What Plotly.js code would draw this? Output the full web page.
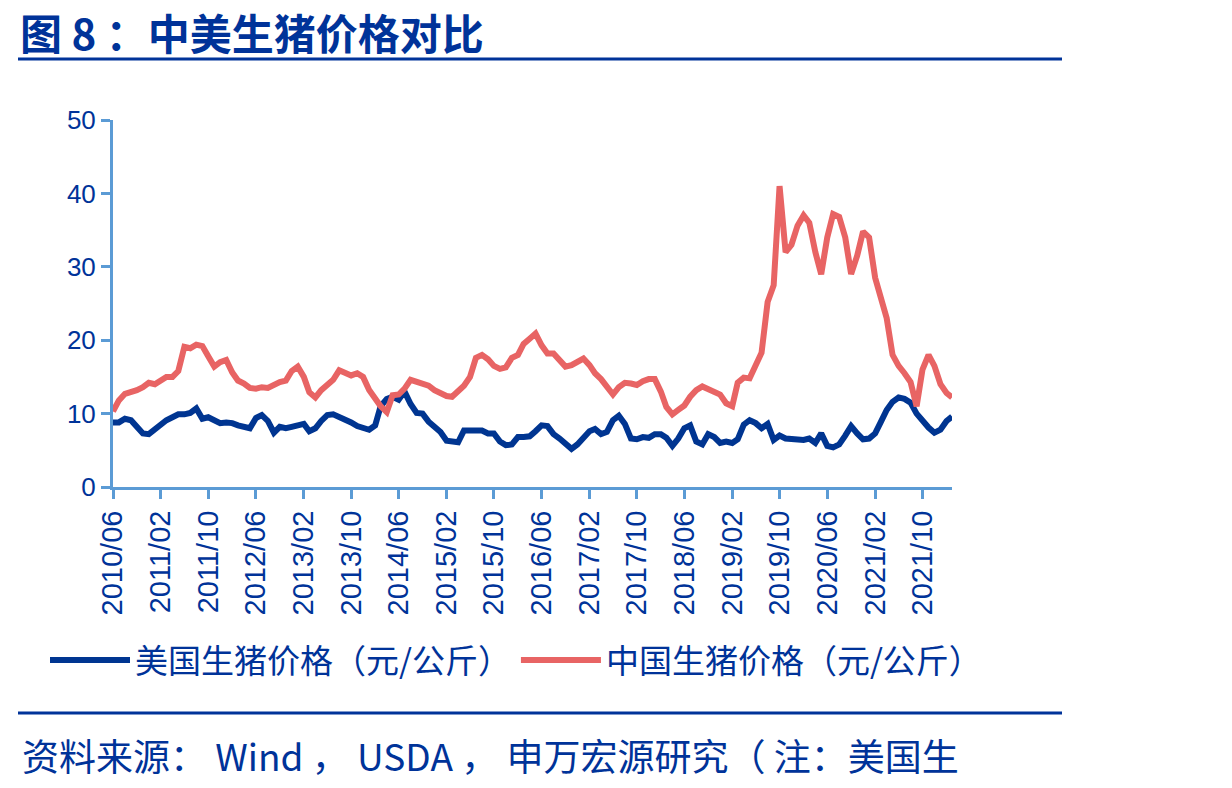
<!DOCTYPE html>
<html>
<head>
<meta charset="utf-8">
<script src="https://cdn.plot.ly/plotly-3.0.1.min.js"></script>
<style>
html,body{margin:0;padding:0;background:#fff;}
#chart{width:1232px;height:788px;}
</style>
</head>
<body>
<div id="chart"></div>
<script>
// Monthly series, 2010/06 .. 2022/03
var startYear = 2010, startMonth = 6;
var usPrice = [
 8.8, 8.8, 9.3, 9.1, 8.2, 7.3, 7.2, 7.9, 8.6, 9.1,
 9.5, 9.9, 9.9, 10.1, 10.7, 9.3, 9.5, 9.0, 8.7, 8.8,
 8.7, 8.4, 8.2, 8.0, 9.4, 9.8, 9.0, 7.4, 8.2, 8.0,
 8.2, 8.4, 8.6, 7.6, 8.0, 9.0, 9.8, 9.9, 9.6, 9.3,
 8.8, 8.3, 8.0, 7.8, 8.4, 11.0, 12.0, 12.3, 11.9, 13.0,
 11.3, 10.1, 10.0, 8.9, 8.2, 7.5, 6.3, 6.2, 6.1, 7.7,
 7.7, 7.7, 7.7, 7.3, 7.3, 6.2, 5.7, 5.8, 6.8, 6.8,
 6.9, 7.6, 8.4, 8.3, 7.2, 6.6, 5.8, 5.2, 5.8, 6.6,
 7.6, 7.9, 7.2, 7.5, 9.1, 9.7, 8.6, 6.6, 6.5, 6.8,
 6.7, 7.2, 7.2, 6.7, 5.6, 6.6, 8.0, 8.4, 6.2, 5.8,
 7.2, 6.8, 6.0, 6.2, 6.0, 6.5, 8.5, 9.1, 8.7, 8.0,
 8.6, 6.4, 7.0, 6.6, 6.5, 6.5, 6.4, 6.6, 6.0, 7.3,
 5.6, 5.4, 5.8, 7.0, 8.3, 7.3, 6.5, 6.6, 7.3, 8.8,
 10.5, 11.6, 12.2, 12.0, 11.5, 10.0, 9.0, 8.1, 7.4, 7.8,
 9.0, 9.6
];
var cnPrice = [
 10.3, 11.8, 12.7, 12.9, 13.2, 13.6, 14.2, 14.0, 14.5, 15.0,
 15.0, 15.8, 19.1, 18.9, 19.4, 19.2, 17.8, 16.4, 17.0, 17.3,
 15.6, 14.5, 14.1, 13.5, 13.4, 13.6, 13.5, 14.0, 14.3, 14.5,
 15.8, 16.4, 15.0, 12.9, 12.2, 13.2, 13.9, 14.6, 15.9, 15.5,
 15.2, 15.5, 15.0, 13.2, 11.9, 11.0, 10.2, 12.5, 12.6, 13.4,
 14.6, 14.4, 14.0, 13.8, 13.2, 12.8, 12.4, 12.3, 13.0, 13.8,
 15.0, 17.6, 18.0, 17.4, 16.5, 16.1, 16.3, 17.6, 18.0, 19.5,
 20.2, 20.9, 19.3, 18.2, 18.2, 17.3, 16.4, 16.6, 17.1, 17.5,
 16.6, 15.5, 14.7, 13.5, 12.6, 13.6, 14.2, 14.1, 13.9, 14.4,
 14.7, 14.7, 13.0, 10.9, 9.9, 10.5, 11.1, 12.3, 13.2, 13.7,
 13.4, 13.1, 12.6, 11.4, 11.0, 14.2, 14.9, 14.8, 16.6, 18.3,
 25.2, 27.5, 41.0, 32.0, 33.0, 35.6, 37.0, 36.0, 32.0, 29.0,
 34.0, 37.2, 36.8, 34.0, 29.0, 31.5, 34.8, 34.0, 28.5, 26.0,
 23.0, 18.0, 16.5, 15.5, 14.3, 11.0, 16.0, 18.0, 16.5, 14.0,
 12.8, 12.2
];
var seriesNames = ['美国生猪价格（元/公斤）', '中国生猪价格（元/公斤）'];
var titleText = '图 8 ：中美生猪价格对比';
var sourceText = '资料来源： Wind ， USDA ， 申万宏源研究（ 注：美国生';

var months = [];
for (var k = 0; k < usPrice.length; k++) {
  var m = startMonth - 1 + k;
  var y = startYear + Math.floor(m / 12);
  var mm = (m % 12) + 1;
  months.push(y + '-' + (mm < 10 ? '0' : '') + mm + '-01');
}

var darkBlue = '#003399';
var redC = '#E86464';
var axisC = '#5B9BD5';
var cjk = '"Noto Sans CJK SC", "Noto Sans", sans-serif';
var latin = '"Liberation Sans", Arial, sans-serif';

var traces = [
  {x: months, y: usPrice, name: seriesNames[0], type: 'scatter', mode: 'lines',
   line: {color: '#003591', width: 6}},
  {x: months, y: cnPrice, name: seriesNames[1], type: 'scatter', mode: 'lines',
   line: {color: redC, width: 6}}
];

var L = 113, R = 952, T = 120, B = 487;
var pw = R - L, ph = B - T;
function px(x) { return (x - L) / pw; }
function py(y) { return (B - y) / ph; }

var layout = {
  width: 1232, height: 788,
  margin: {l: L, r: 1232 - R, t: T, b: 788 - B, pad: 0},
  paper_bgcolor: '#fff', plot_bgcolor: '#fff',
  showlegend: true,
  xaxis: {type: 'date', range: [months[0], months[months.length - 1]],
          tick0: months[0], dtick: 'M8', tickformat: '%Y/%m', tickangle: -90,
          ticks: 'outside', ticklen: 9, tickwidth: 3, tickcolor: axisC,
          showline: true, linewidth: 3, linecolor: axisC, showgrid: false, zeroline: false,
          tickfont: {family: latin, size: 29, color: darkBlue}},
  yaxis: {range: [0, 50], dtick: 10, ticks: 'outside', ticklen: 9, tickwidth: 3, tickcolor: axisC,
          showline: true, linewidth: 3, linecolor: axisC, showgrid: false, zeroline: false,
          tickfont: {family: latin, size: 26, color: darkBlue}},
  legend: {orientation: 'h', x: px(45), xanchor: 'left', y: py(660), yanchor: 'middle',
           font: {family: cjk, size: 33, color: darkBlue}, itemwidth: 80,
           bgcolor: 'rgba(0,0,0,0)', tracegroupgap: 0},
  shapes: [
    {type: 'line', xref: 'paper', yref: 'paper', x0: px(18), x1: px(1062), y0: py(59), y1: py(59),
     line: {color: darkBlue, width: 3}},
    {type: 'line', xref: 'paper', yref: 'paper', x0: px(18), x1: px(1062), y0: py(713), y1: py(713),
     line: {color: darkBlue, width: 3}}
  ],
  annotations: [
    {text: '<b>' + titleText + '</b>', xref: 'paper', yref: 'paper', x: px(18), y: py(31),
     xanchor: 'left', yanchor: 'middle', showarrow: false,
     font: {family: cjk, size: 42, color: darkBlue}},
    {text: sourceText, xref: 'paper', yref: 'paper', x: px(20), y: py(755), xanchor: 'left',
     yanchor: 'middle', showarrow: false, font: {family: cjk, size: 37, color: darkBlue}}
  ]
};

Plotly.newPlot('chart', traces, layout, {displayModeBar: false, staticPlot: true});
</script>
</body>
</html>
